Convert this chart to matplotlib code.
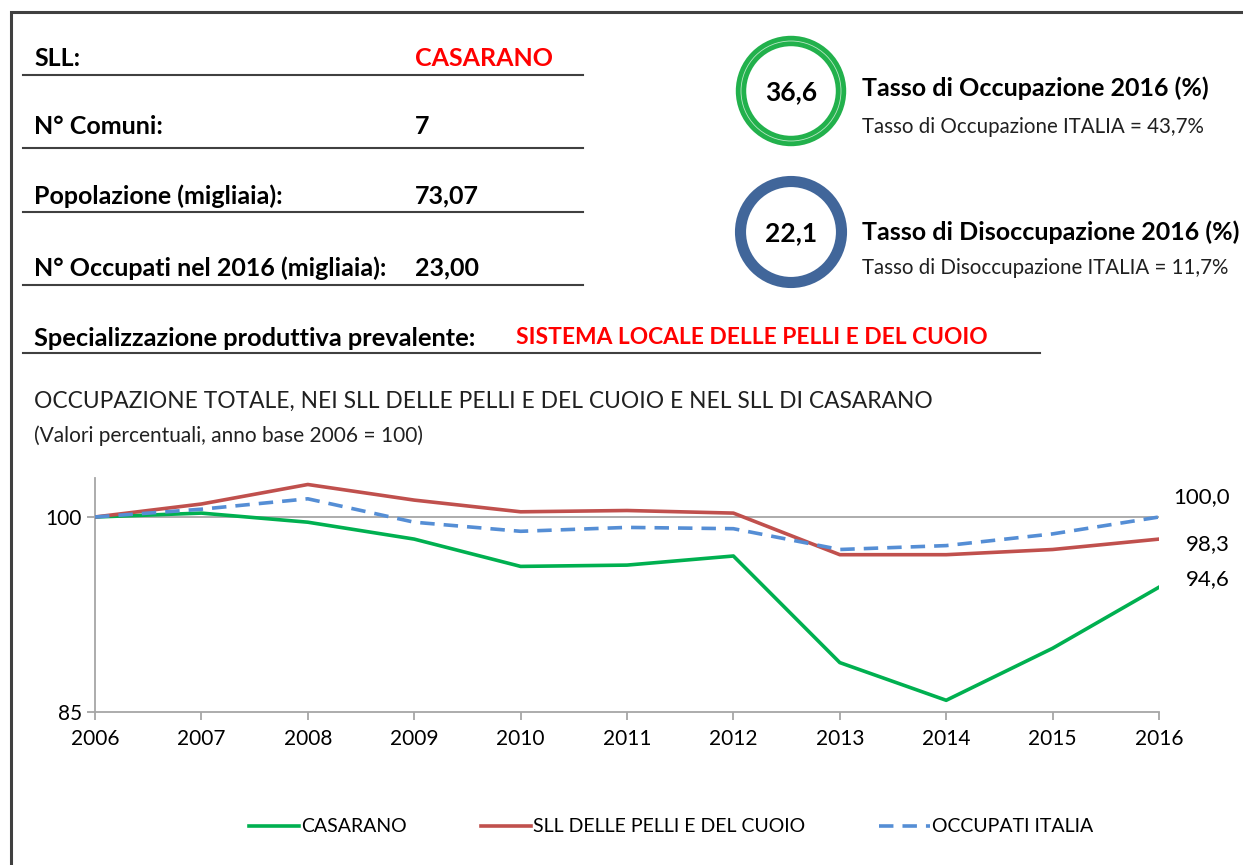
import matplotlib
matplotlib.use("Agg")
import matplotlib.pyplot as plt
from matplotlib.patches import Circle

plt.rcParams['font.family'] = ['Lato', 'DejaVu Sans']

# dati del riquadro
sll = "CASARANO"
n_comuni = "7"
popolazione = "73,07"
occupati_2016 = "23,00"
specializzazione = "SISTEMA LOCALE DELLE PELLI E DEL CUOIO"
tasso_occ = 36.6
tasso_occ_italia = 43.7
tasso_dis = 22.1
tasso_dis_italia = 11.7

# serie storiche (2006 = 100)
anni = [2006, 2007, 2008, 2009, 2010, 2011, 2012, 2013, 2014, 2015, 2016]
casarano = [100.0, 100.3, 99.6, 98.3, 96.2, 96.3, 97.0, 88.8, 85.9, 89.9, 94.6]
sll_pelli = [100.0, 101.0, 102.5, 101.3, 100.4, 100.5, 100.3, 97.1, 97.1, 97.5, 98.3]
italia = [100.0, 100.6, 101.4, 99.6, 98.9, 99.2, 99.1, 97.5, 97.8, 98.7, 100.0]

W, H = 1243, 865
fig = plt.figure(figsize=(W / 100, H / 100), dpi=100)

# livello di sfondo in coordinate pixel
bg = fig.add_axes([0, 0, 1, 1])
bg.set_xlim(0, W)
bg.set_ylim(H, 0)
bg.axis('off')

# cornice
bg.plot([11, 11, W], [H, 12, 12], color='#404040', lw=2.2, solid_joinstyle='miter')

def fmt(v):
    return f"{v:.1f}".replace('.', ',')

def riga(y_txt, y_line, etichetta, valore, col_val='black'):
    bg.text(34, y_txt, etichetta, fontsize=18, fontweight='bold', va='center')
    bg.text(415, y_txt, valore, fontsize=18, fontweight='bold', va='center', color=col_val)
    bg.plot([23, 583], [y_line, y_line], color='#404040', lw=1.5)

riga(59, 75, "SLL:", sll, col_val='#FF0000')
riga(127, 148, "N° Comuni:", n_comuni)
riga(196, 212, "Popolazione (migliaia):", popolazione)
riga(268, 285, "N° Occupati nel 2016 (migliaia):", occupati_2016)

# cerchi con i tassi
bg.add_patch(Circle((791, 91), 50, fill=False, ec='#22B14C', lw=7.5))
bg.add_patch(Circle((791, 91), 50, fill=False, ec='#B8E6C4', lw=0.6))
bg.text(791, 92, fmt(tasso_occ), fontsize=19, fontweight='bold', ha='center', va='center')
bg.text(862, 88, "Tasso di Occupazione 2016 (%)", fontsize=18, fontweight='bold', va='center')
bg.text(862, 127, f"Tasso di Occupazione ITALIA = {fmt(tasso_occ_italia)}%",
        fontsize=14.8, va='center', color='#202020')

bg.add_patch(Circle((791, 232), 50.5, fill=False, ec='#41669A', lw=8))
bg.text(791, 233, fmt(tasso_dis), fontsize=19, fontweight='bold', ha='center', va='center')
bg.text(862, 232, "Tasso di Disoccupazione 2016 (%)", fontsize=18, fontweight='bold', va='center')
bg.text(862, 268, f"Tasso di Disoccupazione ITALIA = {fmt(tasso_dis_italia)}%",
        fontsize=14.8, va='center', color='#202020')

# specializzazione
bg.text(34, 338, "Specializzazione produttiva prevalente:", fontsize=18.3, fontweight='bold',
        va='center')
bg.text(516, 338, specializzazione, fontsize=16.4, fontweight='bold', va='center', color='#FF0000')
bg.plot([23, 1040], [353, 353], color='#404040', lw=1.5)

# titoli del grafico
bg.text(34, 401, "OCCUPAZIONE TOTALE, NEI SLL DELLE PELLI E DEL CUOIO E NEL SLL DI CASARANO",
        fontsize=16.4, va='center', color='#202020')
bg.text(34, 436, "(Valori percentuali, anno base 2006 = 100)", fontsize=15, va='center',
        color='#202020')

# grafico
ax = fig.add_axes([95 / W, 1 - 712 / H, (1159 - 95) / W, (712 - 478) / H])
ax.set_facecolor('none')
ax.axhline(100, color='#A6A6A6', lw=1.3, zorder=1)
l1, = ax.plot(anni, casarano, color='#00B050', lw=2.6, zorder=3)
l2, = ax.plot(anni, sll_pelli, color='#C0504D', lw=2.6, zorder=3)
l3, = ax.plot(anni, italia, color='#558ED5', lw=2.6, ls=(0, (4, 2.5)), zorder=4)

ax.set_xlim(anni[0], anni[-1])
ax.set_ylim(85, 103)
ax.set_xticks(anni)
ax.set_yticks([85, 100])
ax.tick_params(axis='both', colors='#A6A6A6', labelcolor='black', labelsize=15,
               direction='out', length=6, width=1.3)
ax.tick_params(axis='x', pad=6)
for s in ['top', 'right']:
    ax.spines[s].set_visible(False)
for s in ['left', 'bottom']:
    ax.spines[s].set_color('#A6A6A6')
    ax.spines[s].set_linewidth(1.3)

# etichette finali (scostamento verticale in pixel)
for serie, dy in [(italia, 20), (sll_pelli, -5), (casarano, 8)]:
    v = serie[-1]
    ax.annotate(fmt(v), (anni[-1], v), xytext=(71, dy),
                textcoords='offset pixels', ha='right', va='center', fontsize=16)

fig.legend([l1, l2, l3], ["CASARANO", "SLL DELLE PELLI E DEL CUOIO", "OCCUPATI ITALIA"],
           loc='center', bbox_to_anchor=(671 / W, 1 - 827 / H), ncol=3, frameon=False,
           fontsize=14, handlelength=2.6, handletextpad=0.1, columnspacing=3.8)

fig.savefig("out.png", dpi=100)
